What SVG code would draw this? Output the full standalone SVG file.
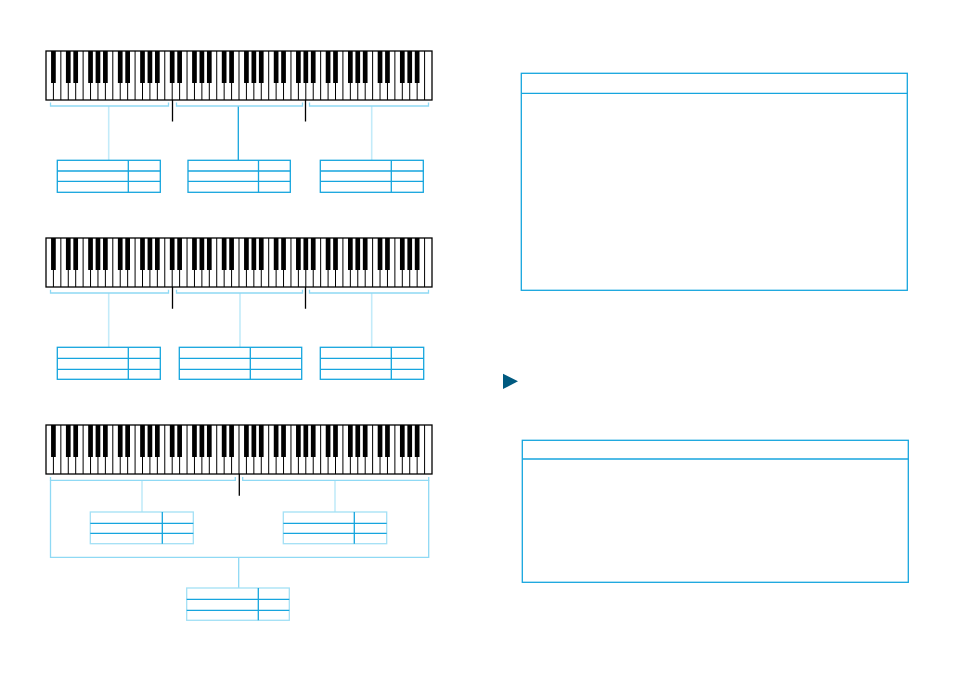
<svg xmlns="http://www.w3.org/2000/svg" xmlns:xlink="http://www.w3.org/1999/xlink" width="954" height="677" viewBox="0 0 954 677">
<style>
.kbo{fill:#fff;stroke:#000;stroke-width:1.3}
.kbl{fill:none;stroke:#000;stroke-width:1}
.blk{fill:#000}
.brk{fill:none;stroke:#8fd9f4;stroke-width:1.3}
.stp{fill:none;stroke:#c3ebf9;stroke-width:1.6}
.stb{fill:none;stroke:#16a5de;stroke-width:1.3}
.div{fill:none;stroke:#000;stroke-width:1.3}
.tb{fill:#fff;stroke:#16a5de;stroke-width:1.3}
.tbp{fill:#fff;stroke:#a3e0f5;stroke-width:1.3}
.tl{fill:none;stroke:#16a5de;stroke-width:1.3}
.box{fill:#fff;stroke:#16a5de;stroke-width:1.3}
</style>
<defs>
<g id="kb">
<rect class="kbo" x="0" y="0" width="386" height="49"/>
<path class="kbl" d="M7.42 0V49M14.85 0V49M22.27 0V49M29.69 0V49M37.12 0V49M44.54 0V49M51.96 0V49M59.38 0V49M66.81 0V49M74.23 0V49M81.65 0V49M89.08 0V49M96.5 0V49M103.92 0V49M111.35 0V49M118.77 0V49M126.19 0V49M133.62 0V49M141.04 0V49M148.46 0V49M155.88 0V49M163.31 0V49M170.73 0V49M178.15 0V49M185.58 0V49M193 0V49M200.42 0V49M207.85 0V49M215.27 0V49M222.69 0V49M230.12 0V49M237.54 0V49M244.96 0V49M252.38 0V49M259.81 0V49M267.23 0V49M274.65 0V49M282.08 0V49M289.5 0V49M296.92 0V49M304.35 0V49M311.77 0V49M319.19 0V49M326.62 0V49M334.04 0V49M341.46 0V49M348.88 0V49M356.31 0V49M363.73 0V49M371.15 0V49M378.58 0V49"/>
<path class="blk" d="M5.07 0h4.7v32h-4.7zM19.92 0h4.7v32h-4.7zM27.34 0h4.7v32h-4.7zM42.19 0h4.7v32h-4.7zM49.61 0h4.7v32h-4.7zM57.03 0h4.7v32h-4.7zM71.88 0h4.7v32h-4.7zM79.3 0h4.7v32h-4.7zM94.15 0h4.7v32h-4.7zM101.57 0h4.7v32h-4.7zM109 0h4.7v32h-4.7zM123.84 0h4.7v32h-4.7zM131.27 0h4.7v32h-4.7zM146.11 0h4.7v32h-4.7zM153.53 0h4.7v32h-4.7zM160.96 0h4.7v32h-4.7zM175.8 0h4.7v32h-4.7zM183.23 0h4.7v32h-4.7zM198.07 0h4.7v32h-4.7zM205.5 0h4.7v32h-4.7zM212.92 0h4.7v32h-4.7zM227.77 0h4.7v32h-4.7zM235.19 0h4.7v32h-4.7zM250.03 0h4.7v32h-4.7zM257.46 0h4.7v32h-4.7zM264.88 0h4.7v32h-4.7zM279.73 0h4.7v32h-4.7zM287.15 0h4.7v32h-4.7zM302 0h4.7v32h-4.7zM309.42 0h4.7v32h-4.7zM316.84 0h4.7v32h-4.7zM331.69 0h4.7v32h-4.7zM339.11 0h4.7v32h-4.7zM353.96 0h4.7v32h-4.7zM361.38 0h4.7v32h-4.7zM368.8 0h4.7v32h-4.7z"/>
</g>
</defs>
<rect width="954" height="677" fill="#fff"/>

<g id="keyboard1"><use xlink:href="#kb" href="#kb" transform="translate(46,51)"/></g>
<g id="keyboard2"><use xlink:href="#kb" href="#kb" transform="translate(46,238)"/></g>
<g id="keyboard3"><use xlink:href="#kb" href="#kb" transform="translate(46,425)"/></g>

<g id="connectors">
<!-- keyboard 1 -->
<path class="stp" d="M108.7 106V160.3M371.7 106V160.3"/>
<path class="stb" d="M238.3 106V160.3"/>
<path class="brk" d="M50.5 102.5V106H168.5V102.5M176.5 102.5V106H302.5V102.5M309.5 102.5V106H428.5V102.5"/>
<path class="div" d="M172.5 100V121.5M305.5 100V121.5"/>
<!-- keyboard 2 -->
<path class="stp" d="M108.7 293V347.3M240 293V347.3M371.7 293V347.3"/>
<path class="brk" d="M50.5 289.8V293H168.5V289.8M176.5 289.8V293H302.5V289.8M309.5 289.8V293H428.5V289.8"/>
<path class="div" d="M172.5 287V308.7M305.5 287V308.7"/>
<!-- keyboard 3 -->
<path class="stp" d="M142 480.3V512M335 480.3V512"/>
<path class="brk" d="M50.5 477V480.3H235.3V477M242.7 477V480.3H428.7V477"/>
<path class="brk" d="M50.5 480.3V557.3H428.7V480.3M238.7 557.3V588"/>
<path class="div" d="M239.3 474V495.7"/>
</g>

<g id="table1a"><rect class="tb" x="57.3" y="160.3" width="103" height="32"/><path class="tl" d="M57.3 171H160.3M57.3 181.3H160.3M128.3 160.3V192.3"/></g>
<g id="table1b"><rect class="tb" x="188" y="160.3" width="102.3" height="32"/><path class="tl" d="M188 171H290.3M188 181.3H290.3M258.5 160.3V192.3"/></g>
<g id="table1c"><rect class="tb" x="320.3" y="160.3" width="103" height="32"/><path class="tl" d="M320.3 171H423.3M320.3 181.3H423.3M391.3 160.3V192.3"/></g>

<g id="table2a"><rect class="tb" x="57.3" y="347.3" width="103" height="32"/><path class="tl" d="M57.3 358.3H160.3M57.3 369.3H160.3M128.3 347.3V379.3"/></g>
<g id="table2b"><rect class="tb" x="179.3" y="347.3" width="122.4" height="32"/><path class="tl" d="M179.3 358.3H301.7M179.3 369.3H301.7M250.3 347.3V379.3"/></g>
<g id="table2c"><rect class="tb" x="320.3" y="347.3" width="103.4" height="32"/><path class="tl" d="M320.3 358.3H423.7M320.3 369.3H423.7M391.3 347.3V379.3"/></g>

<g id="table3a"><rect class="tbp" x="90.3" y="512" width="103" height="31.7"/><path class="tl" d="M90.3 523.3H193.3M90.3 533.3H193.3M162.3 512V543.7"/></g>
<g id="table3b"><rect class="tbp" x="283.3" y="512" width="103.4" height="31.7"/><path class="tl" d="M283.3 523.3H386.7M283.3 533.3H386.7M354.3 512V543.7"/></g>
<g id="table3c"><rect class="tbp" x="186.7" y="588" width="102.6" height="32.3"/><path class="tl" d="M186.7 599.3H289.3M186.7 610.3H289.3M258.3 588V620.3"/></g>

<g id="box1"><rect class="box" x="521.3" y="73.3" width="386" height="217"/><path class="tl" d="M521.3 93.3H907.3"/></g>
<g id="marker"><polygon points="503,373.7 518,381.3 503,389" fill="#005a80"/></g>
<g id="box2"><rect class="box" x="522.3" y="440.3" width="386" height="142"/><path class="tl" d="M522.3 459H908.3"/></g>
</svg>
